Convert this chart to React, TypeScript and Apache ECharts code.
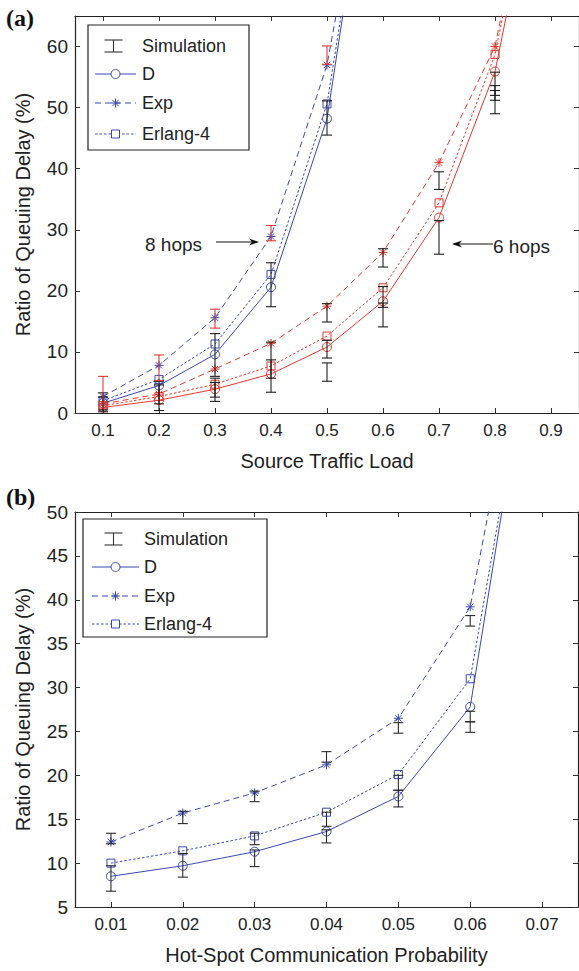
import React, { useEffect, useRef } from "react";
import * as echarts from "echarts";

// ---------- data: panel (a) ----------
const loadTicks = [0.1, 0.2, 0.3, 0.4, 0.5, 0.6, 0.7, 0.8, 0.9];
const ratioTicksA = [0, 10, 20, 30, 40, 50, 60];
// 8 hops (blue)
const load8 = [0.1, 0.2, 0.3, 0.4, 0.5, 0.6];
const hops8D = [1.6, 4.5, 9.6, 20.6, 48.2, 108];
const hops8Exp = [2.7, 7.8, 15.6, 28.9, 57.0, 107];
const hops8Erl = [2.0, 5.5, 11.3, 22.7, 50.6, 108];
// 6 hops (red)
const load6 = [0.1, 0.2, 0.3, 0.4, 0.5, 0.6, 0.7, 0.8, 0.9];
const hops6D = [0.9, 2.1, 3.9, 6.4, 10.8, 18.3, 32.0, 55.9, 101];
const hops6Exp = [1.5, 3.1, 7.2, 11.4, 17.5, 26.3, 41.0, 60.0, 105];
const hops6Erl = [1.2, 2.7, 4.7, 7.7, 12.6, 20.5, 34.4, 58.7, 104];
// simulation error bars [x, low, high]
const simABlack = [
  [0.1, 0.2, 3.3], [0.1, 0.5, 2.6],
  [0.2, 0.4, 5.2], [0.2, 1.5, 4.6],
  [0.3, 6.0, 13.0], [0.3, 1.9, 5.7], [0.3, 2.6, 5.0],
  [0.4, 17.4, 24.6], [0.4, 3.4, 11.6], [0.4, 5.7, 8.7],
  [0.5, 45.5, 51.1], [0.5, 14.9, 17.9], [0.5, 9.0, 11.9], [0.5, 5.2, 8.2],
  [0.6, 23.9, 26.9], [0.6, 17.3, 20.7], [0.6, 14.1, 18.0],
  [0.7, 36.6, 39.5], [0.7, 26.0, 31.5],
  [0.8, 49.0, 55.8], [0.8, 52.0, 53.6], [0.8, 51.2, 52.8],
];
const simARed = [
  [0.1, 0.8, 6.0], [0.2, 5.3, 9.5], [0.3, 13.9, 17.0], [0.4, 28.2, 30.7], [0.5, 57.1, 60.1],
];

// ---------- data: panel (b) ----------
const probTicks = [0.01, 0.02, 0.03, 0.04, 0.05, 0.06, 0.07];
const ratioTicksB = [5, 10, 15, 20, 25, 30, 35, 40, 45, 50];
const probX = [0.01, 0.02, 0.03, 0.04, 0.05, 0.06, 0.07];
const hotD = [8.5, 9.7, 11.3, 13.6, 17.6, 27.8, 78.3];
const hotExp = [12.4, 15.7, 18.0, 21.2, 26.5, 39.2, 81.6];
const hotErl = [10.0, 11.4, 13.1, 15.8, 20.1, 31.0, 77.3];
const simB = [
  [0.01, 6.8, 9.7], [0.01, 12.2, 13.4],
  [0.02, 8.4, 11.1], [0.02, 14.5, 15.9],
  [0.03, 9.6, 11.5], [0.03, 12.1, 13.4], [0.03, 17.0, 18.2],
  [0.04, 12.3, 13.8], [0.04, 14.2, 15.8], [0.04, 21.5, 22.7],
  [0.05, 16.4, 18.3], [0.05, 18.3, 20.0], [0.05, 24.8, 26.0],
  [0.06, 24.9, 26.1], [0.06, 26.1, 27.3], [0.06, 37.0, 38.2],
];

const BLUE = "#3848b2";
const RED = "#e6372c";
const BLACK = "#1e1e1e";
const FONT = "'Liberation Sans', Arial, Helvetica, sans-serif";
const TXT = "#222";

const STAR = "path://M5,0L5,10M0,5L10,5M1.5,1.5L8.5,8.5M1.5,8.5L8.5,1.5";

function lineSeries(name: string, xs: number[], ys: number[], color: string, kind: string, xi: number, yi: number) {
  const symbol = kind === "D" ? "circle" : kind === "Exp" ? STAR : "rect";
  const size = kind === "D" ? 9 : kind === "Exp" ? 9 : 8;
  const dash: any = kind === "D" ? "solid" : kind === "Exp" ? [6, 4] : [2.5, 2];
  return {
    type: "line",
    name,
    xAxisIndex: xi,
    yAxisIndex: yi,
    data: xs.map((x, i) => [x, ys[i]]),
    symbol,
    symbolSize: size,
    showSymbol: true,
    clip: true,
    lineStyle: { color, width: 1, type: dash },
    itemStyle: { color: "transparent", borderColor: color, borderWidth: 1 },
    emphasis: { disabled: true },
    z: 3,
  };
}

function errSeries(name: string, data: number[][], color: string, xi: number, yi: number) {
  return {
    type: "custom",
    name,
    xAxisIndex: xi,
    yAxisIndex: yi,
    data,
    encode: { x: 0, y: [1, 2] },
    z: 4,
    renderItem: (params: any, api: any) => {
      const x = api.value(0);
      const p1 = api.coord([x, api.value(1)]);
      const p2 = api.coord([x, api.value(2)]);
      const w = 5;
      const st = { stroke: color, lineWidth: 1.1 };
      return {
        type: "group",
        children: [
          { type: "line", shape: { x1: p1[0], y1: p1[1], x2: p2[0], y2: p2[1] }, style: st },
          { type: "line", shape: { x1: p1[0] - w, y1: p1[1], x2: p1[0] + w, y2: p1[1] }, style: st },
          { type: "line", shape: { x1: p2[0] - w, y1: p2[1], x2: p2[0] + w, y2: p2[1] }, style: st },
        ],
      };
    },
  };
}

function xAxes(grid: number, min: number, max: number, ticks: number[], dec: number, name: string) {
  const line = { show: true, onZero: false, lineStyle: { color: TXT, width: 1.2 } };
  const tick = { show: true, inside: true, length: 5, customValues: ticks, lineStyle: { color: "#333" } };
  return [
    {
      type: "value", gridIndex: grid, position: "bottom", min, max,
      axisLine: line, axisTick: tick, splitLine: { show: false },
      axisLabel: {
        show: true, customValues: ticks, formatter: (v: number) => v.toFixed(dec),
        fontSize: 17, color: TXT, margin: 9, fontFamily: FONT,
      },
      name, nameLocation: "middle", nameGap: 38,
      nameTextStyle: { fontSize: 20, color: TXT, fontFamily: FONT },
    },
    {
      type: "value", gridIndex: grid, position: "top", min, max,
      axisLine: line, axisTick: tick, splitLine: { show: false }, axisLabel: { show: false },
    },
  ];
}

function yAxes(grid: number, min: number, max: number, ticks: number[]) {
  const line = { show: true, onZero: false, lineStyle: { color: TXT, width: 1.2 } };
  const tick = { show: true, inside: true, length: 5, customValues: ticks, lineStyle: { color: "#333" } };
  return [
    {
      type: "value", gridIndex: grid, position: "left", min, max,
      axisLine: line, axisTick: tick, splitLine: { show: false },
      axisLabel: {
        show: true, customValues: ticks, fontSize: 19, color: TXT, margin: 7, fontFamily: FONT,
      },
      name: "Ratio of Queuing Delay (%)", nameLocation: "middle", nameGap: 42,
      nameTextStyle: { fontSize: 20, color: TXT, fontFamily: FONT },
    },
    {
      type: "value", gridIndex: grid, position: "right", min, max,
      axisLine: line, axisTick: tick, splitLine: { show: false }, axisLabel: { show: false },
    },
  ];
}

function legendGraphic(bx: number, by: number, bw: number, bh: number, rows: number[], sx1: number, sx2: number, tx: number) {
  const cx = (sx1 + sx2) / 2;
  const children: any[] = [
    { type: "rect", shape: { x: bx, y: by, width: bw, height: bh }, style: { fill: "#fff", stroke: TXT, lineWidth: 1.2 } },
  ];
  // Simulation
  const r0 = rows[0];
  const st0 = { stroke: "#333", lineWidth: 1.1 };
  children.push(
    { type: "line", shape: { x1: cx - 2, y1: r0 - 6, x2: cx - 2, y2: r0 + 6 }, style: st0 },
    { type: "line", shape: { x1: cx - 11, y1: r0 - 6, x2: cx + 7, y2: r0 - 6 }, style: st0 },
    { type: "line", shape: { x1: cx - 11, y1: r0 + 6, x2: cx + 7, y2: r0 + 6 }, style: st0 },
  );
  const labels = ["Simulation", "D", "Exp", "Erlang-4"];
  const dashes: any[] = [null, null, [6, 4], [2.5, 2]];
  for (let i = 1; i < 4; i++) {
    const y = rows[i];
    children.push({
      type: "line", shape: { x1: sx1, y1: y, x2: sx2, y2: y },
      style: { stroke: BLUE, lineWidth: 1, lineDash: dashes[i] },
    });
  }
  children.push({ type: "circle", shape: { cx, cy: rows[1], r: 4.5 }, style: { fill: "#fff", stroke: BLUE, lineWidth: 1 } });
  const sy = rows[2];
  children.push(
    { type: "line", shape: { x1: cx, y1: sy - 4.5, x2: cx, y2: sy + 4.5 }, style: { stroke: BLUE, lineWidth: 1 } },
    { type: "line", shape: { x1: cx - 4.5, y1: sy, x2: cx + 4.5, y2: sy }, style: { stroke: BLUE, lineWidth: 1 } },
    { type: "line", shape: { x1: cx - 3.2, y1: sy - 3.2, x2: cx + 3.2, y2: sy + 3.2 }, style: { stroke: BLUE, lineWidth: 1 } },
    { type: "line", shape: { x1: cx - 3.2, y1: sy + 3.2, x2: cx + 3.2, y2: sy - 3.2 }, style: { stroke: BLUE, lineWidth: 1 } },
  );
  children.push({ type: "rect", shape: { x: cx - 4, y: rows[3] - 4, width: 8, height: 8 }, style: { fill: "#fff", stroke: BLUE, lineWidth: 1 } });
  for (let i = 0; i < 4; i++) {
    children.push({
      type: "text", x: tx, y: rows[i],
      style: { text: labels[i], font: `18px ${FONT}`, fill: TXT, align: "left", verticalAlign: "middle" },
    });
  }
  return { type: "group", z: 100, children };
}

function arrow(x1: number, x2: number, y: number) {
  const dir = x2 > x1 ? 1 : -1;
  return {
    type: "group", z: 90,
    children: [
      { type: "line", shape: { x1, y1: y, x2: x2 - dir * 2, y2: y }, style: { stroke: "#111", lineWidth: 1.2 } },
      { type: "polygon", shape: { points: [[x2, y], [x2 - dir * 10, y - 3.5], [x2 - dir * 7, y], [x2 - dir * 10, y + 3.5]] }, style: { fill: "#111" } },
    ],
  };
}

export default function App() {
  const ref = useRef<HTMLDivElement>(null);
  useEffect(() => {
    if (!ref.current) return;
    const chart = echarts.init(ref.current, undefined, { renderer: "svg" });
    const option: any = {
      animation: false,
      backgroundColor: "#fff",
      grid: [
        { left: 75, top: 16, width: 505, height: 397 },
        { left: 75, top: 512, width: 503, height: 395 },
      ],
      xAxis: [
        ...xAxes(0, 0.05, 0.95, loadTicks, 1, "Source Traffic Load"),
        ...xAxes(1, 0.005, 0.075, probTicks, 2, "Hot-Spot Communication Probability"),
      ],
      yAxis: [...yAxes(0, 0, 65, ratioTicksA), ...yAxes(1, 5, 50, ratioTicksB)],
      series: [
        lineSeries("8 hops D", load8, hops8D, BLUE, "D", 0, 0),
        lineSeries("8 hops Exp", load8, hops8Exp, BLUE, "Exp", 0, 0),
        lineSeries("8 hops Erlang-4", load8, hops8Erl, BLUE, "Erl", 0, 0),
        lineSeries("6 hops D", load6, hops6D, RED, "D", 0, 0),
        lineSeries("6 hops Exp", load6, hops6Exp, RED, "Exp", 0, 0),
        lineSeries("6 hops Erlang-4", load6, hops6Erl, RED, "Erl", 0, 0),
        errSeries("Simulation", simABlack, BLACK, 0, 0),
        errSeries("Simulation red", simARed, RED, 0, 0),
        lineSeries("D", probX, hotD, BLUE, "D", 2, 2),
        lineSeries("Exp", probX, hotExp, BLUE, "Exp", 2, 2),
        lineSeries("Erlang-4", probX, hotErl, BLUE, "Erl", 2, 2),
        errSeries("Simulation b", simB, "#2a2a2a", 2, 2),
      ],
      graphic: [
        { type: "text", x: 6, y: 18, z: 100, style: { text: "(a)", font: `bold 24px 'Liberation Serif', 'Times New Roman', serif`, fill: "#111", verticalAlign: "middle" } },
        { type: "text", x: 6, y: 497, z: 100, style: { text: "(b)", font: `bold 24px 'Liberation Serif', 'Times New Roman', serif`, fill: "#111", verticalAlign: "middle" } },
        legendGraphic(88, 25, 161, 125, [46, 74, 103, 134], 95, 136, 142),
        legendGraphic(83, 519, 184, 118, [539, 567, 596, 624], 92, 139, 144),
        { type: "text", x: 145, y: 244, z: 100, style: { text: "8 hops", font: `19px ${FONT}`, fill: TXT, verticalAlign: "middle" } },
        arrow(216, 259, 242),
        { type: "text", x: 493, y: 246, z: 100, style: { text: "6 hops", font: `19px ${FONT}`, fill: TXT, verticalAlign: "middle" } },
        arrow(493, 452, 244),
      ],
    };
    chart.setOption(option);
    return () => chart.dispose();
  }, []);
  return (
    <div
      ref={ref}
      style={{ position: "absolute", left: 0, top: 0, width: 579, height: 971, background: "#fff" }}
    />
  );
}
